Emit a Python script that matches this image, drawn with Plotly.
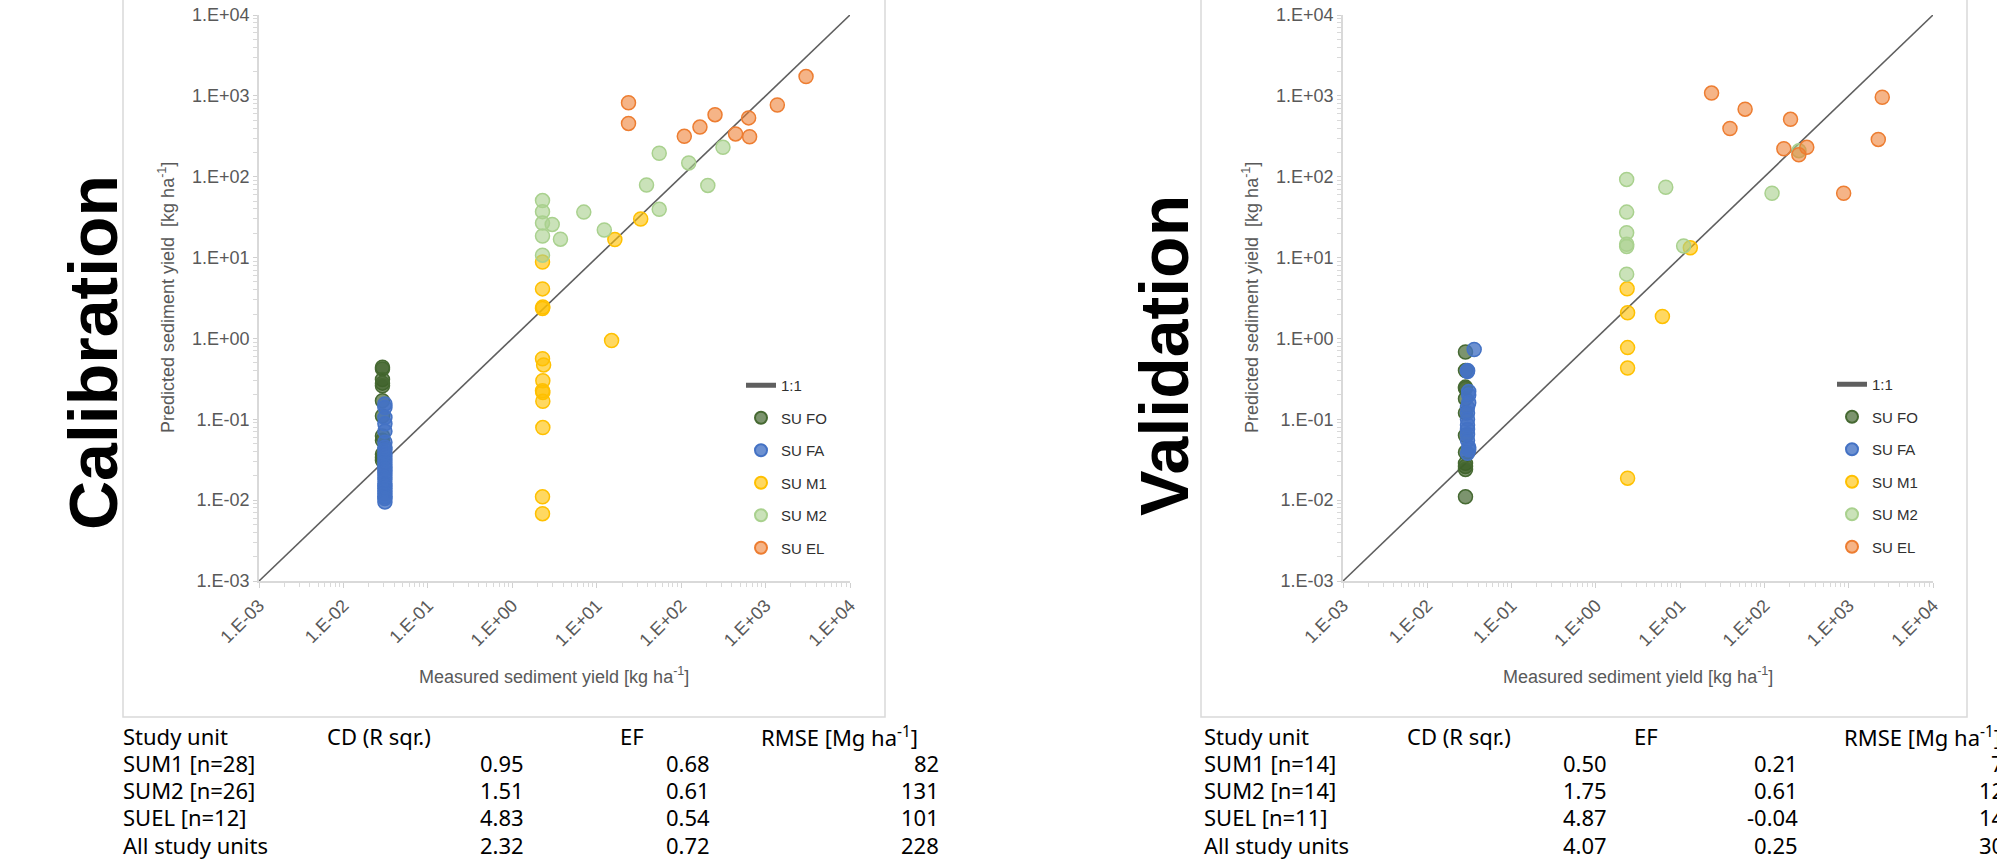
import plotly.graph_objects as go

W, H = 1997, 864

# ---------------- data ----------------
decades = [1e-3, 1e-2, 1e-1, 1e0, 1e1, 1e2, 1e3, 1e4]
tick_text = ["1.E-03", "1.E-02", "1.E-01", "1.E+00", "1.E+01", "1.E+02", "1.E+03", "1.E+04"]
one_to_one = [1e-3, 1e4]

series_names = ["SU FO", "SU FA", "SU M1", "SU M2", "SU EL"]

# Calibration
cal_fo_x = [0.029, 0.029, 0.029, 0.029, 0.029, 0.029, 0.029, 0.029, 0.029, 0.029, 0.029, 0.029]
cal_fo_y = [0.44, 0.42, 0.31, 0.28, 0.26, 0.17, 0.11, 0.062, 0.055, 0.037, 0.034, 0.031]
cal_fa_x = [0.031, 0.031, 0.031, 0.031, 0.031, 0.031, 0.031, 0.031, 0.031, 0.031, 0.031, 0.031, 0.031,
            0.031, 0.031, 0.031, 0.031, 0.031, 0.031, 0.031, 0.031, 0.031, 0.031, 0.031, 0.031]
cal_fa_y = [0.155, 0.14, 0.105, 0.088, 0.071, 0.052, 0.045, 0.042, 0.038, 0.035, 0.032, 0.029, 0.026,
            0.024, 0.022, 0.020, 0.018, 0.016, 0.015, 0.014, 0.013, 0.012, 0.011, 0.0105, 0.0095]
cal_m1_x = [2.28, 2.28, 2.3, 2.28, 2.28, 2.35, 2.3, 2.28, 2.3, 2.3, 2.3, 2.28, 2.28, 15, 16.4, 33.2]
cal_m1_y = [8.8, 4.1, 2.45, 2.35, 0.56, 0.47, 0.30, 0.225, 0.215, 0.167, 0.079, 0.011, 0.0068, 0.94, 16.7, 30]
cal_m2_x = [2.28, 2.28, 2.28, 2.28, 2.28, 2.97, 3.72, 7.03, 12.3, 38.9, 55, 55, 123, 207, 313]
cal_m2_y = [50.7, 37, 26.7, 18.5, 10.7, 25.7, 16.9, 36.5, 21.9, 79, 195, 39.5, 148, 78, 231]
cal_el_x = [23.8, 23.8, 109, 167, 252, 441, 630, 647, 1378, 3015]
cal_el_y = [822, 456, 316, 411, 585, 338, 534, 312, 770, 1733]

# Validation
val_fo_x = [0.0284, 0.0284, 0.0284, 0.0284, 0.0284, 0.0284, 0.0284, 0.0284, 0.0284, 0.0284, 0.0284, 0.0284]
val_fo_y = [0.68, 0.40, 0.25, 0.24, 0.18, 0.12, 0.063, 0.039, 0.0285, 0.026, 0.024, 0.011]
val_fa_x = [0.036, 0.030, 0.030, 0.031, 0.031, 0.031, 0.030, 0.030, 0.030, 0.030, 0.030, 0.030, 0.030,
            0.031, 0.031, 0.030]
val_fa_y = [0.73, 0.40, 0.39, 0.22, 0.20, 0.16, 0.14, 0.12, 0.10, 0.085, 0.075, 0.065, 0.055,
            0.045, 0.042, 0.038]
val_m1_x = [2.35, 2.38, 2.38, 2.38, 2.38, 6.16, 13.2]
val_m1_y = [4.11, 2.08, 0.77, 0.43, 0.0187, 1.87, 13.2]
val_m2_x = [2.32, 2.32, 2.32, 2.32, 2.32, 2.32, 6.75, 11, 123, 257]
val_m2_y = [92.5, 36.5, 20.3, 14.6, 13.7, 6.24, 74, 13.9, 62.4, 210]
val_el_x = [23.6, 39, 59, 204, 170, 256, 318, 871, 2244, 2500]
val_el_y = [1082, 395, 684, 513, 222, 187, 231, 62.4, 289, 962]

# Tables
table_header = ["Study unit", "CD (R sqr.)", "EF", "RMSE [Mg ha<sup>-1</sup>]"]
cal_units = ["SUM1 [n=28]", "SUM2 [n=26]", "SUEL [n=12]", "All study units"]
cal_cd = ["0.95", "1.51", "4.83", "2.32"]
cal_ef = ["0.68", "0.61", "0.54", "0.72"]
cal_rmse = ["82", "131", "101", "228"]
val_units = ["SUM1 [n=14]", "SUM2 [n=14]", "SUEL [n=11]", "All study units"]
val_cd = ["0.50", "1.75", "4.87", "4.07"]
val_ef = ["0.21", "0.61", "-0.04", "0.25"]
val_rmse = ["74", "126", "145", "308"]

# ---------------- styles ----------------
fills = {
    "SU FO": "rgba(62,98,42,0.68)",
    "SU FA": "rgba(68,114,196,0.78)",
    "SU M1": "rgba(255,192,0,0.62)",
    "SU M2": "rgba(169,209,142,0.62)",
    "SU EL": "rgba(237,125,49,0.58)",
}
borders = {
    "SU FO": "rgb(70,105,50)",
    "SU FA": "rgb(68,114,196)",
    "SU M1": "rgb(255,192,0)",
    "SU M2": "rgb(169,209,142)",
    "SU EL": "rgb(237,125,49)",
}

fig = go.Figure()

panels = [
    ("x", "y", "legend", [(cal_fo_x, cal_fo_y), (cal_fa_x, cal_fa_y), (cal_m1_x, cal_m1_y),
                          (cal_m2_x, cal_m2_y), (cal_el_x, cal_el_y)]),
    ("x2", "y2", "legend2", [(val_fo_x, val_fo_y), (val_fa_x, val_fa_y), (val_m1_x, val_m1_y),
                             (val_m2_x, val_m2_y), (val_el_x, val_el_y)]),
]

for xa, ya, lg, data in panels:
    fig.add_trace(go.Scatter(
        x=one_to_one, y=one_to_one, mode="lines", name="1:1",
        line=dict(color="#5f5f5f", width=1.6), xaxis=xa, yaxis=ya,
        legend=lg, legendgroup=lg + "line", hoverinfo="skip"))
    for name, (xs, ys) in zip(series_names, data):
        fig.add_trace(go.Scatter(
            x=xs, y=ys, mode="markers", name=name, xaxis=xa, yaxis=ya,
            legend=lg, legendgroup=lg + name,
            marker=dict(size=14, color=fills[name], line=dict(color=borders[name], width=1.5))))

def px_x(p):
    return p / W

def px_y(p):
    return 1 - p / H

minor_vals = []
for d in decades[:-1]:
    for m in range(2, 10):
        minor_vals.append(d * m)

tickfont = dict(family="Liberation Sans, Arial, sans-serif", size=18, color="#595959")

def xaxis_cfg(domain, anchor):
    return dict(type="log", range=[-3, 4], domain=domain, anchor=anchor,
                tickmode="array", tickvals=decades, ticktext=tick_text, tickangle=-45,
                ticks="outside", ticklen=5, tickwidth=1.3, tickcolor="#d0d0d0",
                showline=True, linecolor="#d9d9d9", linewidth=1.8,
                showgrid=False, zeroline=False, tickfont=tickfont, automargin=False,
                minor=dict(tickmode="array", tickvals=minor_vals, ticks="outside", ticklen=4,
                           tickcolor="#d9d9d9", tickwidth=1, showgrid=False),
                fixedrange=True)

def yaxis_cfg(domain, anchor):
    return dict(type="log", range=[-3, 4], domain=domain, anchor=anchor,
                tickmode="array", tickvals=decades, ticktext=tick_text,
                ticks="outside", ticklen=4, tickwidth=1.3, tickcolor="#d0d0d0",
                showline=True, linecolor="#d9d9d9", linewidth=1.8,
                showgrid=False, zeroline=False, tickfont=tickfont, automargin=False,
                ticklabelstandoff=0,
                minor=dict(tickmode="array", tickvals=minor_vals, ticks="outside", ticklen=4,
                           tickcolor="#d9d9d9", tickwidth=1, showgrid=False),
                fixedrange=True)

ydom = [px_y(581), px_y(15)]
fig.update_layout(
    width=W, height=H, autosize=False,
    margin=dict(l=0, r=0, t=0, b=0),
    paper_bgcolor="white", plot_bgcolor="white",
    template="none",
    showlegend=True,
    xaxis=xaxis_cfg([px_x(259), px_x(850)], "y"),
    yaxis=yaxis_cfg(ydom, "x"),
    xaxis2=xaxis_cfg([px_x(1343), px_x(1933)], "y2"),
    yaxis2=yaxis_cfg(ydom, "x2"),
)

legend_font = dict(family="Liberation Sans, Arial, sans-serif", size=15, color="#303030")
fig.update_layout(
    legend=dict(x=px_x(741), y=px_y(369), xanchor="left", yanchor="top",
                bgcolor="rgba(0,0,0,0)", font=legend_font, tracegroupgap=10,
                itemsizing="constant", itemwidth=30),
    legend2=dict(x=px_x(1832), y=px_y(368), xanchor="left", yanchor="top",
                 bgcolor="rgba(0,0,0,0)", font=legend_font, tracegroupgap=10,
                 itemsizing="constant", itemwidth=30),
)

# chart frames
shapes = []
for x0, x1 in [(123, 885), (1201, 1967)]:
    shapes.append(dict(type="rect", xref="paper", yref="paper",
                       x0=px_x(x0), x1=px_x(x1), y0=px_y(717), y1=1.05,
                       line=dict(color="#d9d9d9", width=1.5), fillcolor="rgba(0,0,0,0)", layer="below"))
fig.update_layout(shapes=shapes)

ann = []
title_font = dict(family="Liberation Sans, Arial, sans-serif", size=18, color="#595959")
for cx, ax_left in [(554, 259), (1638, 1343)]:
    ann.append(dict(text="Measured sediment yield [kg ha<sup>-1</sup>]", x=px_x(cx), y=px_y(675),
                    xref="paper", yref="paper", showarrow=False, font=title_font,
                    xanchor="center", yanchor="middle"))
    ann.append(dict(text="Predicted sediment yield  [kg ha<sup>-1</sup>]", x=px_x(ax_left - 93), y=px_y(298),
                    xref="paper", yref="paper", showarrow=False, font=title_font, textangle=-90,
                    xanchor="center", yanchor="middle"))

big_font = dict(family="Liberation Sans, Arial, sans-serif", size=68, color="black")
ann.append(dict(text="<b>Calibration</b>", x=px_x(93), y=px_y(353), xref="paper", yref="paper",
                showarrow=False, font=big_font, textangle=-90, xanchor="center", yanchor="middle"))
ann.append(dict(text="<b>Validation</b>", x=px_x(1164), y=px_y(356), xref="paper", yref="paper",
                showarrow=False, font=big_font, textangle=-90, xanchor="center", yanchor="middle"))

table_font = dict(family="Noto Sans, Open Sans, DejaVu Sans, sans-serif", size=22, color="black")
row_y = [736, 763, 790, 817, 845]

def add_table(left, hdr_lefts, val_rights, units, cd, ef, rmse):
    for txt, xl in zip(table_header, [left] + hdr_lefts):
        ann.append(dict(text=txt, x=px_x(xl), y=px_y(row_y[0]), xref="paper", yref="paper",
                        showarrow=False, font=table_font, xanchor="left", yanchor="middle"))
    for i in range(4):
        yy = px_y(row_y[i + 1])
        ann.append(dict(text=units[i], x=px_x(left), y=yy, xref="paper", yref="paper",
                        showarrow=False, font=table_font, xanchor="left", yanchor="middle"))
        for col, xr in zip([cd, ef, rmse], val_rights):
            ann.append(dict(text=col[i], x=px_x(xr), y=yy, xref="paper", yref="paper",
                            showarrow=False, font=table_font, xanchor="right", yanchor="middle"))

add_table(121, [325, 618, 759], [526, 712, 941], cal_units, cal_cd, cal_ef, cal_rmse)
add_table(1202, [1405, 1632, 1842], [1609, 1800, 2019], val_units, val_cd, val_ef, val_rmse)

fig.update_layout(annotations=ann)

fig.write_html("out.html", config={"displayModeBar": False},
               post_script="document.body.style.margin='0';")
